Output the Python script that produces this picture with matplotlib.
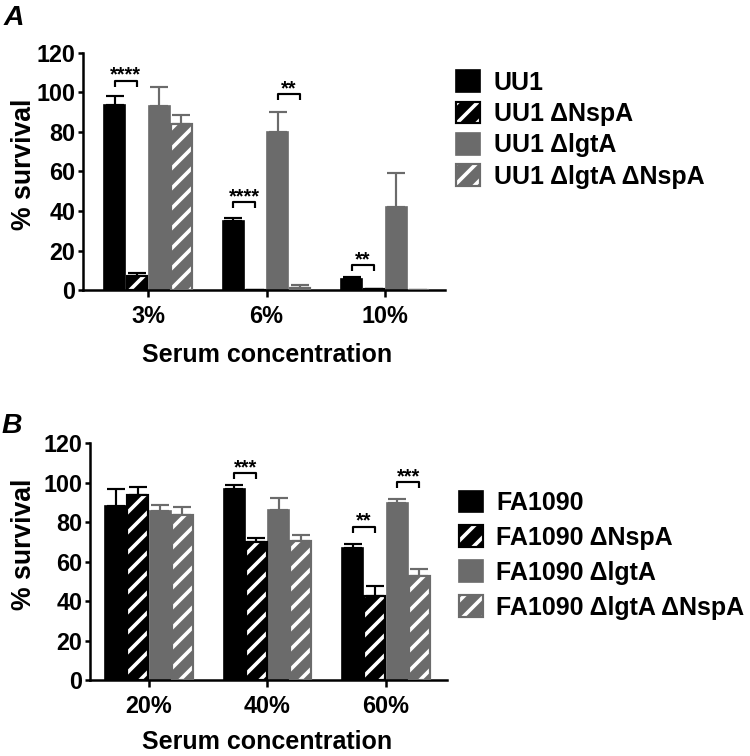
import matplotlib
matplotlib.use("Agg")
import matplotlib.pyplot as plt
from matplotlib.patches import Patch

plt.rcParams['hatch.linewidth'] = 2.2
SANS = ['Liberation Sans', 'DejaVu Sans']

# ---------------- data ----------------
conc_A = ['3%', '6%', '10%']
strains_A = ['UU1', 'UU1 ΔNspA', 'UU1 ΔlgtA', 'UU1 ΔlgtA ΔNspA']
mean_A = [
    [93.5, 35.0, 5.5],
    [7.0, 0.0, 0.4],
    [93.0, 80.0, 42.0],
    [84.0, 1.2, 0.0],
]
err_A = [
    [4.5, 1.5, 1.0],
    [1.5, 0.0, 0.0],
    [10.0, 10.0, 17.0],
    [4.5, 1.2, 0.0],
]
# (group, bar_i, bar_j, y, label)
sig_A = [(0, 0, 1, 106.0, '****'), (1, 0, 1, 44.5, '****'),
         (1, 2, 3, 99.0, '**'), (2, 0, 1, 12.7, '**')]

conc_B = ['20%', '40%', '60%']
strains_B = ['FA1090', 'FA1090 ΔNspA', 'FA1090 ΔlgtA', 'FA1090 ΔlgtA ΔNspA']
mean_B = [
    [88.0, 97.0, 67.0],
    [94.0, 70.0, 42.5],
    [85.5, 86.0, 89.5],
    [83.5, 70.5, 52.5],
]
err_B = [
    [9.0, 2.0, 2.0],
    [4.0, 2.0, 5.0],
    [3.0, 6.5, 2.5],
    [4.0, 3.0, 4.0],
]
sig_B = [(1, 0, 1, 104.8, '***'), (2, 0, 1, 77.7, '**'), (2, 2, 3, 100.2, '***')]

yticks = [0, 20, 40, 60, 80, 100, 120]

# ---------------- style ----------------
BLACK = '#000000'
GRAY = '#6b6b6b'
base_colors = [BLACK, BLACK, GRAY, GRAY]
hatched = [False, True, False, True]
step = 0.1877
bw = 0.176

fig = plt.figure(figsize=(6.25, 6.3), dpi=120)


def draw_panel(ax, cats, strains, means, errs, sigs, xlim):
    n = len(strains)
    for i in range(n):
        xs = [g + (i - (n - 1) / 2) * step for g in range(len(cats))]
        c = base_colors[i]
        if hatched[i]:
            ax.bar(xs, means[i], width=bw, color=c, edgecolor='white',
                   hatch='//', linewidth=0, zorder=2)
            ax.bar(xs, means[i], width=bw, fill=False, edgecolor=c,
                   linewidth=1.3, zorder=3)
        else:
            ax.bar(xs, means[i], width=bw, color=c, edgecolor=c,
                   linewidth=1.0, zorder=2)
        lower = [0] * len(xs)
        ax.errorbar(xs, means[i], yerr=[lower, errs[i]], fmt='none',
                    ecolor=c, elinewidth=1.3, capsize=5.5, capthick=1.3,
                    zorder=1)
    for (g, a, b, y, lab) in sigs:
        xa = g + (a - (n - 1) / 2) * step
        xb = g + (b - (n - 1) / 2) * step
        ax.plot([xa, xa, xb, xb], [y - 3.0, y, y, y - 3.0], color='black',
                lw=1.3, solid_capstyle='butt', zorder=4, clip_on=False)
        ax.text((xa + xb) / 2, y, lab, ha='center', va='baseline',
                fontsize=12, fontweight='bold', family=SANS)
    ax.set_xlim(*xlim)
    ax.set_ylim(0, 120)
    ax.set_yticks(yticks)
    ax.set_xticks(range(len(cats)))
    ax.set_xticklabels(cats)
    for s in ['top', 'right']:
        ax.spines[s].set_visible(False)
    for s in ['left', 'bottom']:
        ax.spines[s].set_linewidth(1.5)
    ax.tick_params(axis='y', width=1.5, length=3, pad=1.5)
    ax.tick_params(axis='x', width=1.5, length=4, pad=5)
    for t in ax.get_xticklabels() + ax.get_yticklabels():
        t.set_family(SANS)
        t.set_fontweight('bold')
        t.set_fontsize(14)


def legend_handles(n):
    hs = []
    for i in range(n):
        c = base_colors[i]
        if hatched[i]:
            hs.append((Patch(facecolor=c, edgecolor='white', hatch='//', linewidth=0),
                       Patch(fill=False, edgecolor=c, linewidth=1.3)))
        else:
            hs.append(Patch(facecolor=c, edgecolor=c, linewidth=1.0))
    return hs


axA = fig.add_axes([0.1107, 0.6164, 0.4827, 0.3135])
draw_panel(axA, conc_A, strains_A, mean_A, err_A, sig_A, (-0.549, 2.506))
axB = fig.add_axes([0.12, 0.1005, 0.476, 0.3131])
draw_panel(axB, conc_B, strains_B, mean_B, err_B, sig_B, (-0.498, 2.515))

fig.legend(legend_handles(4), strains_A, loc='center left',
           bbox_to_anchor=(456 / 750, 1 - 129.5 / 756), frameon=False,
           borderpad=0, borderaxespad=0, handlelength=0.95, handleheight=0.95,
           handletextpad=0.55, labelspacing=0.28,
           prop={'family': SANS, 'weight': 'bold', 'size': 15})
fig.legend(legend_handles(4), strains_B, loc='center left',
           bbox_to_anchor=(459 / 750, 1 - 555 / 756), frameon=False,
           borderpad=0, borderaxespad=0, handlelength=0.95, handleheight=0.95,
           handletextpad=0.55, labelspacing=0.42,
           prop={'family': SANS, 'weight': 'bold', 'size': 15})

# axis titles
for (yc, xl_y) in [(164, 355), (544, 742)]:
    fig.text(24 / 750, 1 - yc / 756, '% survival', rotation=90, ha='center',
             va='center', fontsize=16, fontweight='bold', family=SANS)
    fig.text(267 / 750, 1 - xl_y / 756, 'Serum concentration', ha='center',
             va='center', fontsize=15, fontweight='bold', family=SANS)

fig.text(4 / 750, 1 - 25 / 756, 'A', ha='left', va='baseline', fontsize=17,
         fontweight='bold', fontstyle='italic', family=SANS)
fig.text(2 / 750, 1 - 433 / 756, 'B', ha='left', va='baseline', fontsize=17,
         fontweight='bold', fontstyle='italic', family=SANS)

fig.savefig('out.png', dpi=120)
